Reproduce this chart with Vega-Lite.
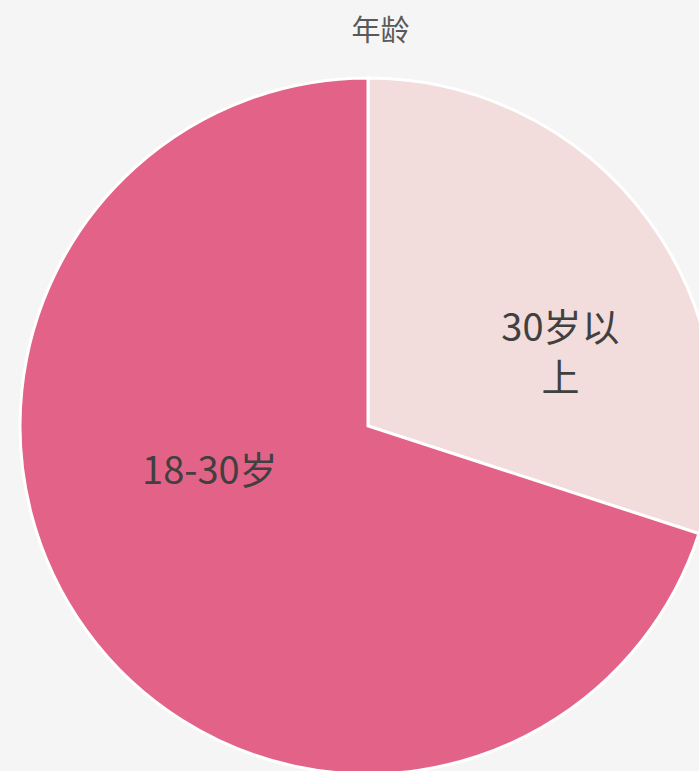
{
  "$schema": "https://vega.github.io/schema/vega-lite/v6.json",
  "width": 699,
  "height": 771,
  "autosize": "none",
  "padding": 0,
  "background": "#f5f5f5",
  "config": {"view": {"stroke": null}},
  "title": {
    "text": "年龄",
    "font": "Noto Sans CJK SC",
    "fontSize": 29,
    "fontWeight": "normal",
    "color": "#595959",
    "anchor": "middle",
    "offset": 0,
    "baseline": "alphabetic",
    "dx": 31,
    "dy": 70
  },
  "data": {
    "values": [
      {"group": "30岁以上", "label": "30岁以\n上", "share": 30, "order": 1},
      {"group": "18-30岁", "label": "18-30岁", "share": 70, "order": 2}
    ]
  },
  "encoding": {
    "theta": {"field": "share", "type": "quantitative", "stack": true},
    "order": {"field": "order", "type": "quantitative"}
  },
  "layer": [
    {
      "mark": {"type": "arc", "x": 368, "y": 426, "outerRadius": 348, "stroke": "#ffffff", "strokeWidth": 3},
      "encoding": {
        "color": {
          "field": "group",
          "type": "nominal",
          "scale": {"domain": ["30岁以上", "18-30岁"], "range": ["#F2DCDC", "#E36388"]},
          "legend": null
        }
      }
    },
    {
      "mark": {"type": "text", "x": 368, "y": 426, "radius": 215, "thetaOffset": 0.166, "font": "Noto Sans CJK SC", "fontSize": 38, "color": "#404040", "lineBreak": "\n", "lineHeight": 50, "align": "center", "baseline": "middle"},
      "encoding": {
        "text": {"condition": {"test": "datum.order == 1", "field": "label"}, "value": ""}
      }
    },
    {
      "mark": {"type": "text", "x": 368, "y": 426, "radius": 165, "thetaOffset": 0.34, "font": "Noto Sans CJK SC", "fontSize": 38, "color": "#404040", "align": "center", "baseline": "middle"},
      "encoding": {
        "text": {"condition": {"test": "datum.order == 2", "field": "label"}, "value": ""}
      }
    }
  ]
}
